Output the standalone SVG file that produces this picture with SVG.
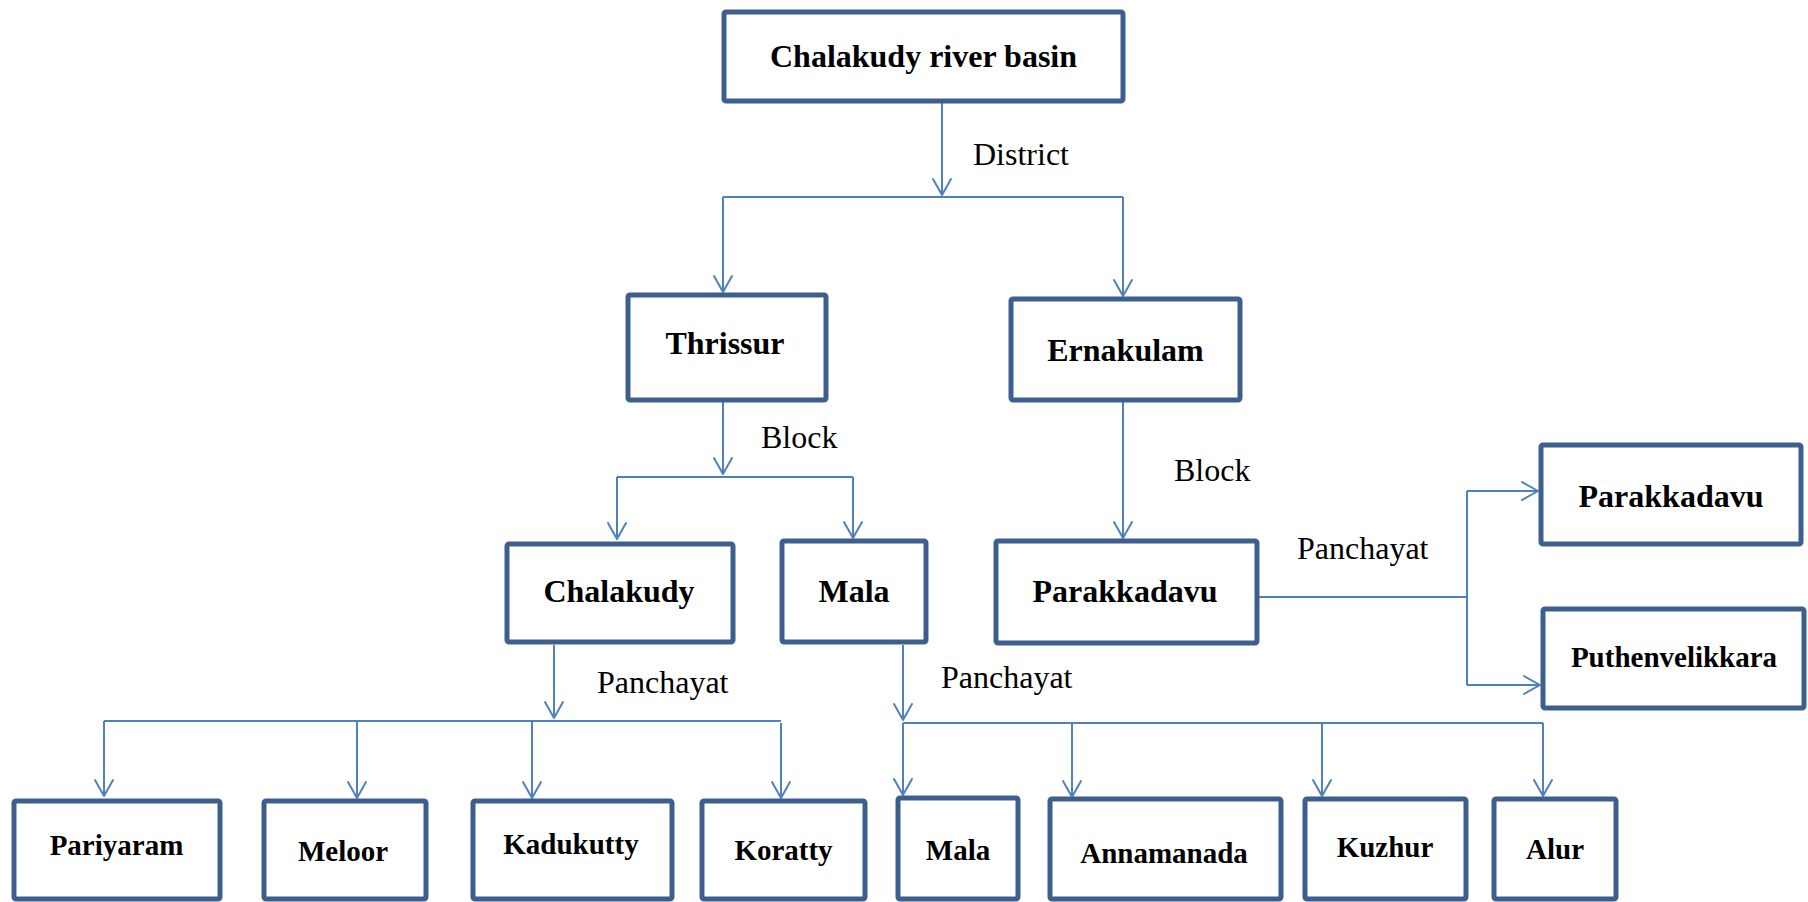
<svg xmlns="http://www.w3.org/2000/svg" width="1808" height="902" viewBox="0 0 1808 902">
<style>
.box{fill:#fff;stroke:#3D5F8E;stroke-width:5;stroke-linejoin:round}
.t{font-family:"Liberation Serif","Times New Roman",serif;font-weight:bold;fill:#000;text-anchor:middle}
.t32{font-size:32px}
.t29{font-size:29px}
.lbl{font-family:"Liberation Serif","Times New Roman",serif;font-size:32px;fill:#000}
.c{fill:none;stroke:#4F81BD;stroke-width:2;stroke-linejoin:round}
.a{marker-end:url(#arr)}
</style>
<defs>
<marker id="arr" markerUnits="userSpaceOnUse" viewBox="-20 -12 24 24" markerWidth="24" markerHeight="24" refX="0" refY="0" orient="auto">
<path d="M-16,-9 L0,0 L-16,9" fill="none" stroke="#4F81BD" stroke-width="2" stroke-linecap="round" stroke-linejoin="round"/>
</marker>
</defs>
<rect width="1808" height="902" fill="#fff"/>
<g id="connectors">
<path class="c a" d="M942,103 V195"/>
<path class="c" d="M723,197 H1123"/>
<path class="c a" d="M723,197 V292"/>
<path class="c a" d="M1123,197 V296"/>
<path class="c a" d="M723,402 V474"/>
<path class="c" d="M617,477 H853"/>
<path class="c a" d="M617,477 V539"/>
<path class="c a" d="M853,477 V538"/>
<path class="c a" d="M1123,402 V538"/>
<path class="c a" d="M554,645 V718"/>
<path class="c" d="M104,721 H781"/>
<path class="c a" d="M104,721 V796"/>
<path class="c a" d="M357,721 V798"/>
<path class="c a" d="M532,721 V798"/>
<path class="c a" d="M781,723 V798"/>
<path class="c a" d="M903,645 V720"/>
<path class="c" d="M903,723 H1543"/>
<path class="c a" d="M903,723 V795"/>
<path class="c a" d="M1072,723 V797"/>
<path class="c a" d="M1322,723 V796"/>
<path class="c a" d="M1543,723 V796"/>
<path class="c" d="M1259,597 H1467"/>
<path class="c" d="M1467,491 V685"/>
<path class="c a" d="M1467,491 H1538"/>
<path class="c a" d="M1467,685 H1540"/>
</g>
<g id="labels">
<text class="lbl" x="973" y="165">District</text>
<text class="lbl" x="761" y="448">Block</text>
<text class="lbl" x="1174" y="481">Block</text>
<text class="lbl" x="597" y="693">Panchayat</text>
<text class="lbl" x="941" y="688">Panchayat</text>
<text class="lbl" x="1297" y="559">Panchayat</text>
</g>
<g id="n-basin"><rect class="box" x="724" y="12" width="399" height="89" rx="2"/><text class="t t32" x="923.5" y="67">Chalakudy river basin</text></g>
<g id="n-thrissur"><rect class="box" x="628" y="295" width="198" height="105" rx="2"/><text class="t t32" x="725" y="354">Thrissur</text></g>
<g id="n-ernakulam"><rect class="box" x="1011" y="299" width="229" height="101" rx="2"/><text class="t t32" x="1125.5" y="361">Ernakulam</text></g>
<g id="n-chalakudy"><rect class="box" x="507" y="544" width="226" height="98" rx="2"/><text class="t t32" x="619" y="602">Chalakudy</text></g>
<g id="n-mala-block"><rect class="box" x="782" y="541" width="144" height="101" rx="2"/><text class="t t32" x="854" y="602">Mala</text></g>
<g id="n-parakkadavu-block"><rect class="box" x="996" y="541" width="261" height="102" rx="2"/><text class="t t32" x="1125" y="602">Parakkadavu</text></g>
<g id="n-parakkadavu"><rect class="box" x="1541" y="445" width="260" height="99" rx="2"/><text class="t t32" x="1671" y="507">Parakkadavu</text></g>
<g id="n-puthenvelikkara"><rect class="box" x="1543" y="609" width="261" height="99" rx="2"/><text class="t t29" x="1674" y="667">Puthenvelikkara</text></g>
<g id="n-pariyaram"><rect class="box" x="14" y="801" width="206" height="98" rx="2"/><text class="t t29" x="116.5" y="855">Pariyaram</text></g>
<g id="n-meloor"><rect class="box" x="264" y="801" width="162" height="98" rx="2"/><text class="t t29" x="343" y="861">Meloor</text></g>
<g id="n-kadukutty"><rect class="box" x="473" y="801" width="199" height="98" rx="2"/><text class="t t29" x="571" y="854">Kadukutty</text></g>
<g id="n-koratty"><rect class="box" x="702" y="801" width="163" height="98" rx="2"/><text class="t t29" x="783.5" y="860">Koratty</text></g>
<g id="n-mala"><rect class="box" x="898" y="798" width="120" height="101" rx="2"/><text class="t t29" x="958" y="860">Mala</text></g>
<g id="n-annamanada"><rect class="box" x="1050" y="799" width="231" height="100" rx="2"/><text class="t t29" x="1164" y="863">Annamanada</text></g>
<g id="n-kuzhur"><rect class="box" x="1305" y="799" width="161" height="100" rx="2"/><text class="t t29" x="1385" y="857">Kuzhur</text></g>
<g id="n-alur"><rect class="box" x="1494" y="799" width="122" height="100" rx="2"/><text class="t t29" x="1555" y="859">Alur</text></g>
</svg>
